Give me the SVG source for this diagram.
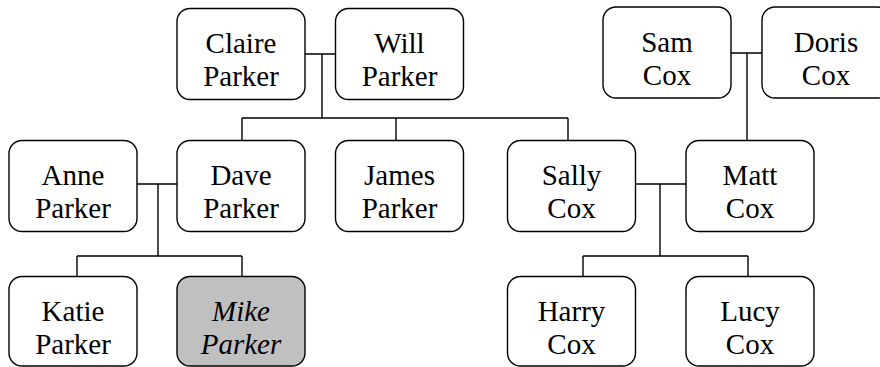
<svg xmlns="http://www.w3.org/2000/svg" width="880" height="367" viewBox="0 0 880 367">
<style>
.box{fill:#fff;stroke:#000;stroke-width:1.4}
.me{fill:#c0c0c0}
.t{font-family:"Liberation Serif","Times New Roman",serif;font-size:29px;text-anchor:middle;fill:#000}
.i{font-style:italic}
.c{fill:none;stroke:#000;stroke-width:1.4}
</style>
<rect width="880" height="367" fill="#fff"/>
<g id="connectors">
<path class="c" d="M305,54H335M322,54V118M242,118H568M242,118V141M396,118V141M568,118V141"/>
<path class="c" d="M731,53H762M747,53V141"/>
<path class="c" d="M137,184H177M158,184V256M77,256H242M77,256V277M242,256V277"/>
<path class="c" d="M636,184H686M660,184V256M583,256H748M583,256V277M748,256V277"/>
</g>
<g id="claire"><rect class="box" x="177" y="8.5" width="128" height="91" rx="13"/><text class="t" x="241" y="53">Claire</text><text class="t" x="241" y="86">Parker</text></g>
<g id="will"><rect class="box" x="335.5" y="8.5" width="128" height="91" rx="13"/><text class="t" x="399.5" y="53">Will</text><text class="t" x="399.5" y="86">Parker</text></g>
<g id="sam"><rect class="box" x="603" y="7" width="128" height="91" rx="13"/><text class="t" x="667" y="52">Sam</text><text class="t" x="667" y="85">Cox</text></g>
<g id="doris"><rect class="box" x="762" y="7" width="128" height="91" rx="13"/><text class="t" x="826" y="52">Doris</text><text class="t" x="826" y="85">Cox</text></g>
<g id="anne"><rect class="box" x="9" y="140.5" width="128" height="91" rx="13"/><text class="t" x="73" y="185">Anne</text><text class="t" x="73" y="218">Parker</text></g>
<g id="dave"><rect class="box" x="177" y="140.5" width="128" height="91" rx="13"/><text class="t" x="241" y="185">Dave</text><text class="t" x="241" y="218">Parker</text></g>
<g id="james"><rect class="box" x="335.5" y="140.5" width="128" height="91" rx="13"/><text class="t" x="399.5" y="185">James</text><text class="t" x="399.5" y="218">Parker</text></g>
<g id="sally"><rect class="box" x="507.5" y="140.5" width="128" height="91" rx="13"/><text class="t" x="571.5" y="185">Sally</text><text class="t" x="571.5" y="218">Cox</text></g>
<g id="matt"><rect class="box" x="686" y="140.5" width="128" height="91" rx="13"/><text class="t" x="750" y="185">Matt</text><text class="t" x="750" y="218">Cox</text></g>
<g id="katie"><rect class="box" x="9" y="276.5" width="128" height="89.5" rx="13"/><text class="t" x="73" y="321">Katie</text><text class="t" x="73" y="354">Parker</text></g>
<g id="mike"><rect class="box me" x="177" y="276.5" width="128" height="89.5" rx="13"/><text class="t i" x="241" y="321">Mike</text><text class="t i" x="241" y="354">Parker</text></g>
<g id="harry"><rect class="box" x="507.5" y="276.5" width="128" height="89.5" rx="13"/><text class="t" x="571.5" y="321">Harry</text><text class="t" x="571.5" y="354">Cox</text></g>
<g id="lucy"><rect class="box" x="686" y="276.5" width="128" height="89.5" rx="13"/><text class="t" x="750" y="321">Lucy</text><text class="t" x="750" y="354">Cox</text></g>
</svg>
